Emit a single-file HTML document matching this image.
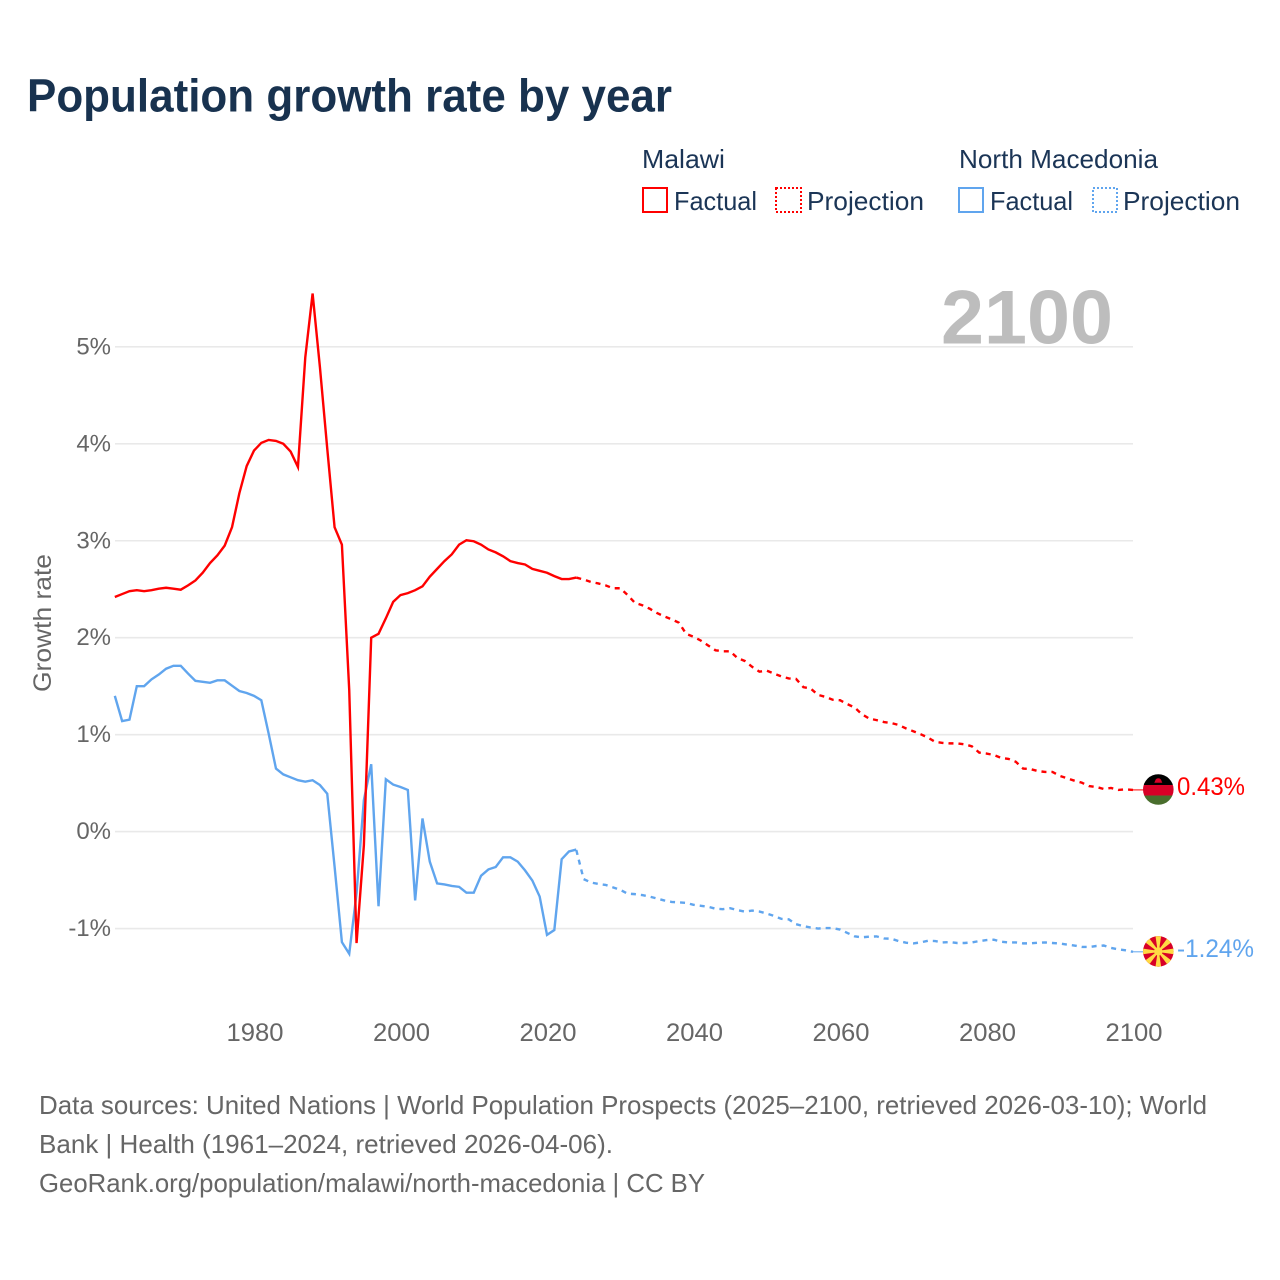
<!DOCTYPE html>
<html lang="en">
<head>
<meta charset="utf-8">
<title>Population growth rate by year</title>
<style>
html,body{margin:0;padding:0;background:#fff;}
svg{display:block;font-family:"Liberation Sans",sans-serif;}
</style>
</head>
<body>
<svg id="chart" xmlns="http://www.w3.org/2000/svg" width="1280" height="1280" viewBox="0 0 1280 1280">
  <rect x="0" y="0" width="1280" height="1280" fill="#ffffff"/>
  <text x="27" y="111.5" font-size="46" font-weight="bold" fill="#18324f" textLength="645" lengthAdjust="spacingAndGlyphs">Population growth rate by year</text>

  <g font-size="26" fill="#1b3556">
    <text x="642" y="168" textLength="83" lengthAdjust="spacingAndGlyphs">Malawi</text>
    <text x="959" y="168" textLength="199" lengthAdjust="spacingAndGlyphs">North Macedonia</text>
    <g>
      <rect x="643" y="188" width="24" height="24" fill="none" stroke="#ff0000" stroke-width="2"/>
      <text x="674" y="210" textLength="83" lengthAdjust="spacingAndGlyphs">Factual</text>
    </g>
    <g>
      <rect x="776" y="188" width="25" height="24" fill="none" stroke="#ff0000" stroke-width="2" stroke-dasharray="2 2"/>
      <text x="807" y="210" textLength="117" lengthAdjust="spacingAndGlyphs">Projection</text>
    </g>
    <g>
      <rect x="959" y="188" width="24" height="24" fill="none" stroke="#60a5ee" stroke-width="2"/>
      <text x="990" y="210" textLength="83" lengthAdjust="spacingAndGlyphs">Factual</text>
    </g>
    <g>
      <rect x="1093" y="188" width="24" height="24" fill="none" stroke="#60a5ee" stroke-width="2" stroke-dasharray="2 2"/>
      <text x="1123" y="210" textLength="117" lengthAdjust="spacingAndGlyphs">Projection</text>
    </g>
  </g>

  <g id="grid"></g>
  <text x="941" y="343.5" font-size="76" font-weight="bold" fill="#bdbdbd" textLength="172" lengthAdjust="spacingAndGlyphs">2100</text>
  <g id="yticks" font-size="24" fill="#666666" text-anchor="end"></g>
  <g id="xticks" font-size="25" fill="#666666" text-anchor="middle"></g>
  <text transform="translate(51,692) rotate(-90)" font-size="25" fill="#666666" textLength="138" lengthAdjust="spacingAndGlyphs">Growth rate</text>

  <g id="series" fill="none" stroke-width="2.4"></g>
  <g id="ends"></g>

  <g font-size="26" fill="#666666">
    <text x="39" y="1114" textLength="1168" lengthAdjust="spacingAndGlyphs">Data sources: United Nations | World Population Prospects (2025–2100, retrieved 2026-03-10); World</text>
    <text x="39" y="1153" textLength="574" lengthAdjust="spacingAndGlyphs">Bank | Health (1961–2024, retrieved 2026-04-06).</text>
    <text x="39" y="1192" textLength="666" lengthAdjust="spacingAndGlyphs">GeoRank.org/population/malawi/north-macedonia | CC BY</text>
  </g>
</svg>
<script>
const xTickYears = [1980, 2000, 2020, 2040, 2060, 2080, 2100];
const yTickValues = [-1, 0, 1, 2, 3, 4, 5];
const factualStartYear = 1961;
const projectionStartYear = 2024;
const malawiFactual = [2.42,2.45,2.48,2.49,2.48,2.49,2.505,2.515,2.505,2.495,2.54,2.59,2.67,2.77,2.85,2.95,3.14,3.49,3.77,3.93,4.01,4.04,4.03,4.0,3.92,3.76,4.89,5.55,4.79,3.95,3.14,2.96,1.46,-1.15,-0.14,2.0,2.04,2.2,2.37,2.44,2.46,2.49,2.53,2.63,2.71,2.79,2.86,2.96,3.005,2.995,2.96,2.91,2.88,2.84,2.79,2.77,2.755,2.71,2.69,2.67,2.635,2.605,2.605,2.62];
const malawiProjection = [2.62,2.60,2.575,2.56,2.54,2.51,2.51,2.44,2.36,2.335,2.30,2.255,2.22,2.19,2.155,2.04,2.01,1.97,1.92,1.87,1.86,1.86,1.79,1.76,1.70,1.65,1.66,1.63,1.60,1.58,1.575,1.49,1.475,1.41,1.39,1.36,1.355,1.315,1.28,1.21,1.165,1.15,1.13,1.12,1.10,1.065,1.035,1.005,0.97,0.925,0.915,0.91,0.91,0.90,0.88,0.815,0.805,0.79,0.76,0.75,0.72,0.65,0.645,0.625,0.615,0.615,0.575,0.55,0.525,0.505,0.47,0.46,0.44,0.45,0.43,0.435,0.43];
const macedoniaFactual = [1.40,1.14,1.155,1.50,1.50,1.57,1.62,1.68,1.71,1.71,1.63,1.555,1.545,1.535,1.56,1.56,1.505,1.45,1.43,1.40,1.355,1.01,0.65,0.59,0.56,0.53,0.515,0.53,0.48,0.39,-0.36,-1.14,-1.26,-0.635,0.325,0.695,-0.77,0.54,0.485,0.46,0.43,-0.71,0.135,-0.31,-0.535,-0.545,-0.56,-0.57,-0.63,-0.63,-0.455,-0.39,-0.365,-0.265,-0.265,-0.31,-0.40,-0.505,-0.67,-1.065,-1.015,-0.285,-0.205,-0.185];
const macedoniaProjection = [-0.19,-0.49,-0.525,-0.54,-0.55,-0.575,-0.60,-0.64,-0.645,-0.655,-0.67,-0.69,-0.71,-0.725,-0.73,-0.735,-0.755,-0.765,-0.775,-0.795,-0.80,-0.79,-0.81,-0.825,-0.815,-0.825,-0.845,-0.87,-0.90,-0.905,-0.955,-0.975,-0.99,-1.00,-0.995,-0.995,-1.01,-1.045,-1.08,-1.09,-1.084,-1.081,-1.102,-1.105,-1.129,-1.146,-1.153,-1.143,-1.126,-1.129,-1.143,-1.139,-1.149,-1.149,-1.143,-1.129,-1.119,-1.115,-1.136,-1.143,-1.143,-1.153,-1.153,-1.146,-1.143,-1.149,-1.155,-1.165,-1.175,-1.19,-1.19,-1.18,-1.175,-1.20,-1.215,-1.225,-1.24];

const SVG_NS = 'http://www.w3.org/2000/svg';
function xScale(year) { return 254 + (year - 1980) * 7.325; }
function yScale(value) { return 831.6 - value * 96.95; }
function mk(parent, tag, attrs) {
  const el = document.createElementNS(SVG_NS, tag);
  for (const k in attrs) el.setAttribute(k, attrs[k]);
  parent.appendChild(el);
  return el;
}
function linePoints(values, startYear) {
  return values.map(function (v, i) {
    return xScale(startYear + i).toFixed(2) + ',' + yScale(v).toFixed(2);
  }).join(' ');
}

const grid = document.getElementById('grid');
const yticks = document.getElementById('yticks');
const xticks = document.getElementById('xticks');
const series = document.getElementById('series');
const ends = document.getElementById('ends');

yTickValues.forEach(function (v) {
  const line = mk(grid, 'line', {x1: 115, x2: 1133, y1: yScale(v), y2: yScale(v), stroke: '#e9e9e9', 'stroke-width': 1.6});
  
  
  const label = mk(yticks, 'text', {x: 111, y: yScale(v) + 7.5});
  
  
  label.textContent = v + '%';
});

xTickYears.forEach(function (year) {
  const label = mk(xticks, 'text', {x: xScale(year) + 1, y: 1041, textLength: 57, lengthAdjust: 'spacingAndGlyphs'});
  
  
  label.textContent = String(year);
});

const mkF = mk(series, 'polyline', {points: linePoints(macedoniaFactual, factualStartYear), stroke: '#60a5ee'});


const mkP = mk(series, 'polyline', {points: linePoints(macedoniaProjection, projectionStartYear), stroke: '#60a5ee', 'stroke-dasharray': '5 5'});


const mwF = mk(series, 'polyline', {points: linePoints(malawiFactual, factualStartYear), stroke: '#ff0000'});


const mwP = mk(series, 'polyline', {points: linePoints(malawiProjection, projectionStartYear), stroke: '#ff0000', 'stroke-dasharray': '5 5'});



const lastMalawi = malawiProjection[malawiProjection.length - 1];
const lastMacedonia = macedoniaProjection[macedoniaProjection.length - 1];
const lastX = xScale(2100);

const conn1 = mk(ends, 'line', {x1: lastX, x2: lastX + 11, y1: yScale(lastMalawi), y2: yScale(lastMalawi), stroke: '#ff0000', 'stroke-width': 1});


const conn2 = mk(ends, 'line', {x1: lastX, x2: lastX + 11, y1: yScale(lastMacedonia), y2: yScale(lastMacedonia), stroke: '#60a5ee', 'stroke-width': 1});



const defs = mk(ends, 'defs', {});
const clip = mk(defs, 'clipPath', {id: 'flag-clip'});
mk(clip, 'circle', {cx: 0, cy: 0, r: 15.3});

const flagMw = mk(ends, 'g', {transform: 'translate(1158.3,' + (yScale(lastMalawi) - 0.4) + ')', 'clip-path': 'url(#flag-clip)'});


mk(flagMw, 'rect', {x: -16, y: -16, width: 32, height: 11.5, fill: '#000000'});
mk(flagMw, 'rect', {x: -16, y: -4.5, width: 32, height: 10.5, fill: '#d80027'});
mk(flagMw, 'rect', {x: -16, y: 6, width: 32, height: 10, fill: '#496e2d'});
mk(flagMw, 'path', {d: 'M-4-6.8 L-2.6-10 A3.4 3.4 0 0 1 2.6-10 L4-6.8Z', fill: '#d80027'});

const flagMk = mk(ends, 'g', {transform: 'translate(1158.3,' + (yScale(lastMacedonia) - 0.4) + ')', 'clip-path': 'url(#flag-clip)'});


mk(flagMk, 'rect', {x: -16, y: -16, width: 32, height: 32, fill: '#d80027'});
[0, 45, 90, 135, 180, 225, 270, 315].forEach(function (angle) {
  mk(flagMk, 'polygon', {points: '-0.6,0 0.6,0 2.9,-16 -2.9,-16', fill: '#ffda44', transform: 'rotate(' + angle + ')'});
});
mk(flagMk, 'circle', {cx: 0, cy: 0, r: 4.2, fill: '#ffda44'});

const valMw = mk(ends, 'text', {x: 1177, y: yScale(lastMalawi) + 5, 'font-size': 25, fill: '#ff0000', textLength: 68, lengthAdjust: 'spacingAndGlyphs'});


valMw.textContent = lastMalawi.toFixed(2) + '%';
const valMk = mk(ends, 'text', {x: 1177, y: yScale(lastMacedonia) + 5, 'font-size': 25, fill: '#60a5ee', textLength: 77, lengthAdjust: 'spacingAndGlyphs'});


valMk.textContent = lastMacedonia.toFixed(2) + '%';
</script>
</body>
</html>
